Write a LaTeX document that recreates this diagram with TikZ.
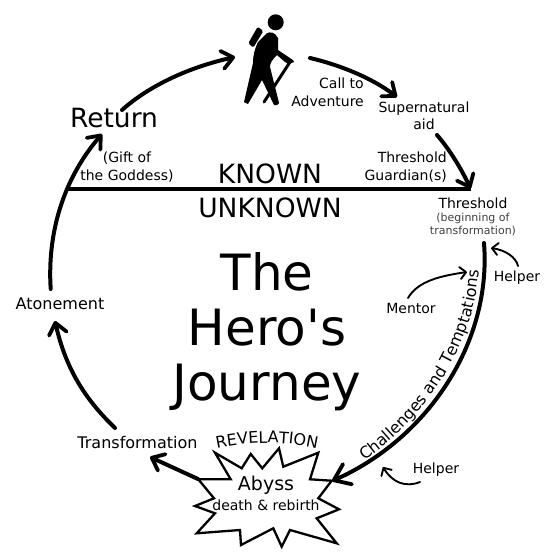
\documentclass[tikz,border=0pt]{standalone}
\usepackage{fontspec}
\setmainfont{DejaVu Sans}
\newfontfamily\plainfont{DejaVu Sans}
\usetikzlibrary{arrows.meta,decorations.text}
\tikzset{
  lbl/.style={inner sep=0pt,align=center,font=\fontsize{14}{17.5}\selectfont},
  mid/.style={inner sep=0pt,align=center,font=\fontsize{16}{19}\selectfont},
  big/.style={inner sep=0pt,align=center,font=\fontsize{26.5}{30}\selectfont},
  arc/.style={line width=4pt,line cap=round,-{Straight Barb[length=11pt,width=18pt,line width=3.8pt,round]}},
  bigarc/.style={line width=4pt,line cap=round,-{Straight Barb[length=15pt,width=22pt,line width=3.8pt,round]}},
  thinarc/.style={line width=1.9pt,line cap=round,-{Straight Barb[length=6pt,width=12pt,line width=1.9pt,round]}},
  burst/.style={draw,line width=2.3pt,fill=white,miter limit=10}
}
\begin{document}
\begin{tikzpicture}[x=1pt,y=-1pt]
\useasboundingbox (0,0) rectangle (552,555);
% hiker
\fill[black] (275.7,22.3) circle (8);
\fill[black,rounded corners=1.5pt] (257.7,26.7) -- (263.3,31) -- (253.3,47.7) -- (248.3,43.3) -- cycle;
\fill[black,line join=round] (266.7,33.3) .. controls (270,31.5) and (275,32) .. (278,38) -- (278,50) -- (293,60) -- (294,62) -- (289,64) -- (285,62) -- (277,55)
 .. controls (272,60) and (270,63) .. (270,67) -- (279,103) -- (277,105) -- (274,105) -- (262,80) -- (248,104) -- (244,102) -- (253,63) .. controls (253,55) and (255,48) .. (258,42) -- cycle;
\draw[black,line width=3pt,line cap=round] (290,62) -- (264,102);
% coordinates for connector ends
\coordinate (lineL) at (66,188.7);
\coordinate (thr) at (470.5,188.7);
\coordinate (atonS) at (50.7,289);
\coordinate (retE) at (102,134);
\coordinate (retS) at (122,110);
\coordinate (hikW) at (235,57);
\coordinate (hikE) at (310,58);
\coordinate (supN) at (397,97);
\coordinate (supS) at (437,135);
\coordinate (thS) at (484,243);
\coordinate (abyE) at (332,481);
\coordinate (abyW) at (198,479);
\coordinate (traN) at (150,457);
\coordinate (traW) at (115,428);
\coordinate (atonN) at (55,321);
\coordinate (m1) at (408,298);
\coordinate (m2) at (467,272);
\coordinate (h1) at (518,266);
\coordinate (h2) at (491,248);
\coordinate (h3) at (420,482);
\coordinate (h4) at (383,467);
% baseline
\draw[line width=4pt] (lineL) -- (thr);
% circle arcs
\draw[arc] (atonS) .. controls (47,232) and (64,178) .. (retE);
\draw[arc] (retS) .. controls (150,85) and (190,67) .. (hikW);
\draw[arc] (hikE) .. controls (340,65) and (372,78) .. (supN);
\draw[arc] (supS) .. controls (450,150) and (462,170) .. (thr);
\draw[bigarc] (thS) .. controls (492,345) and (425,440) .. (abyE);
\draw[arc] (abyW) -- (traN);
\draw[arc] (traW) .. controls (86,400) and (66,370) .. (atonN);
% burst
\path[burst] (198.3,479.3) -- (230.7,479.3) -- (215,452.7) -- (241.7,468.3) -- (250.7,454) -- (262.3,468.3) -- (279,448.3) -- (283.3,466.7) -- (318.3,452.7) -- (310,479.3) -- (331.7,480.7) -- (318.3,498.3) -- (339,509.3) -- (316.7,518.3) -- (336.7,543.3) -- (290,530) -- (281.7,546.7) -- (273.3,528.3) -- (241,545) -- (240,530) -- (196.7,533.3) -- (215,513.3) -- (195,506) -- (214,498.3) -- cycle;
% helper arrows
\draw[thinarc] (m1) .. controls (418,281) and (440,276) .. (m2);
\draw[thinarc] (h1) .. controls (516,257) and (505,250) .. (h2);
\draw[thinarc] (h3) .. controls (405,488) and (392,482) .. (h4);
% labels
\node[big] (ret) at (114,118) {Return};
\node[lbl] (gift) at (127,167) {(Gift of\\the Goddess)};
\node[big] (known) at (270,173.5) {KNOWN};
\node[big] (unknown) at (270,207.5) {UNKNOWN};
\node[lbl,align=right,anchor=east] (call) at (364,92.5) {Call to\\Adventure};
\node[lbl] (sup) at (424,116) {Supernatural\\aid};
\node[lbl,align=right,anchor=east] (guard) at (447,167) {Threshold\\Guardian(s)};
\node[lbl] (th) at (473,203) {Threshold};
\node[inner sep=0pt,align=center,text=black!75,font=\fontsize{11}{13.5}\selectfont] (beg) at (473,224.5) {(beginning of\\transformation)};
\node[lbl] (help1) at (517,278) {Helper};
\node[lbl] (ment) at (411,308) {Mentor};
\node[lbl] (help2) at (436,470) {Helper};
\node[mid] (aton) at (60,304) {Atonement};
\node[mid] (trans) at (137.5,443) {Transformation};
\node[inner sep=0pt,align=center,font=\fontsize{19}{21}\selectfont] (aby) at (266,485) {Abyss};
\node[lbl] (death) at (266,505) {death \& rebirth};
\node[inner sep=0pt,align=center,font=\plainfont\fontsize{50}{55}\selectfont] (title) at (267,332) {The\\Hero's\\Journey};
% curved text
\path[decorate,decoration={text along path,text align=center,text={|\fontsize{16}{16}\selectfont|Challenges and Temptations}}]
  (362,462) .. controls (425,420) and (475,345) .. (479,268);
\path[decorate,decoration={text along path,text align=center,text={|\fontsize{16}{16}\selectfont|REVELATION}}]
  (214,449) .. controls (250,441) and (285,441) .. (320,449);
\end{tikzpicture}
\end{document}
